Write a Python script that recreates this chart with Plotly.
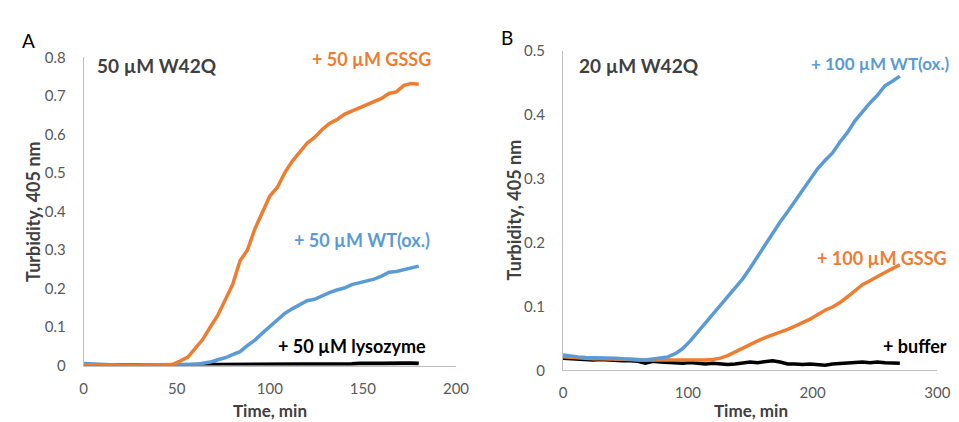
import plotly.graph_objects as go

# ---------------- Panel A data (50 µM W42Q) ----------------
time_a = [0, 4, 8, 12, 16, 20, 24, 28, 32, 36, 40, 44, 48, 52, 56, 60, 64, 68, 72, 76,
          80, 84, 88, 92, 96, 100, 104, 108, 112, 116, 120, 124, 128, 132, 136, 140,
          144, 148, 152, 156, 160, 164, 168, 172, 176, 180]
gssg_a = [0.001, 0.000, 0.001, 0.000, 0.001, 0.000, 0.001, 0.000, 0.001, 0.000, 0.001, 0.001,
          0.003, 0.012, 0.022, 0.045, 0.068, 0.100, 0.130, 0.170, 0.210, 0.272, 0.300, 0.355,
          0.395, 0.440, 0.462, 0.500, 0.530, 0.552, 0.577, 0.592, 0.612, 0.628, 0.638, 0.652,
          0.660, 0.668, 0.676, 0.684, 0.693, 0.706, 0.710, 0.727, 0.732, 0.730]
wt_a = [0.005, 0.004, 0.002, 0.001, 0.001, 0.001, 0.001, 0.001, 0.001, 0.001, 0.001, 0.001,
        0.001, 0.001, 0.002, 0.003, 0.006, 0.009, 0.015, 0.020, 0.028, 0.036, 0.052, 0.066,
        0.084, 0.100, 0.118, 0.135, 0.147, 0.158, 0.168, 0.172, 0.181, 0.189, 0.196, 0.201,
        0.210, 0.214, 0.220, 0.224, 0.232, 0.242, 0.244, 0.248, 0.252, 0.258]
lyso_a = [0.002, 0.001, 0.002, 0.001, 0.001, 0.002, 0.001, 0.001, 0.002, 0.001, 0.001, 0.002,
          0.001, 0.001, 0.002, 0.002, 0.002, 0.003, 0.002, 0.002, 0.003, 0.002, 0.003, 0.003,
          0.002, 0.003, 0.003, 0.002, 0.003, 0.003, 0.003, 0.004, 0.003, 0.003, 0.004, 0.004,
          0.004, 0.005, 0.004, 0.005, 0.005, 0.006, 0.007, 0.006, 0.006, 0.005]

# ---------------- Panel B data (20 µM W42Q) ----------------
time_b = [0, 6, 12, 18, 24, 30, 36, 42, 48, 54, 60, 66, 72, 78, 84, 90, 96, 102, 108, 114,
          120, 126, 132, 138, 144, 150, 156, 162, 168, 174, 180, 186, 192, 198, 204, 210,
          216, 222, 228, 234, 240, 246, 252, 258, 264, 270]
wt_b = [0.024, 0.022, 0.021, 0.020, 0.020, 0.020, 0.019, 0.019, 0.018, 0.018, 0.017, 0.016,
        0.018, 0.020, 0.021, 0.026, 0.034, 0.046, 0.060, 0.073, 0.087, 0.100, 0.115, 0.128,
        0.143, 0.160, 0.178, 0.196, 0.215, 0.232, 0.248, 0.265, 0.282, 0.300, 0.315, 0.328,
        0.340, 0.357, 0.372, 0.390, 0.405, 0.418, 0.430, 0.445, 0.452, 0.460]
gssg_b = [0.021, 0.020, 0.019, 0.019, 0.018, 0.018, 0.018, 0.017, 0.017, 0.017, 0.016, 0.016,
          0.016, 0.016, 0.015, 0.016, 0.015, 0.016, 0.016, 0.016, 0.017, 0.019, 0.023, 0.029,
          0.034, 0.040, 0.046, 0.051, 0.055, 0.060, 0.064, 0.069, 0.074, 0.080, 0.087, 0.094,
          0.099, 0.106, 0.115, 0.124, 0.134, 0.140, 0.147, 0.153, 0.159, 0.165]
buffer_b = [0.019, 0.018, 0.017, 0.017, 0.016, 0.017, 0.016, 0.016, 0.015, 0.015, 0.014, 0.011,
            0.014, 0.013, 0.012, 0.012, 0.011, 0.012, 0.011, 0.010, 0.011, 0.010, 0.009, 0.010,
            0.012, 0.013, 0.012, 0.014, 0.015, 0.013, 0.010, 0.010, 0.009, 0.010, 0.009, 0.008,
            0.010, 0.011, 0.012, 0.012, 0.013, 0.012, 0.013, 0.012, 0.011, 0.011]

xticks_a = [0, 50, 100, 150, 200]
yticks_a = [0, 0.1, 0.2, 0.3, 0.4, 0.5, 0.6, 0.7, 0.8]
xticks_b = [0, 100, 200, 300]
yticks_b = [0, 0.1, 0.2, 0.3, 0.4, 0.5]

ORANGE = "#ED7D31"
BLUE = "#5B9BD5"
BLACK = "#000000"
FONT = "Lato, Open Sans, sans-serif"
TICK = "#595959"

W, H = 959, 422

fig = go.Figure()

def line(x, y, color, xa, ya, width=3.5):
    fig.add_trace(go.Scatter(x=x, y=y, mode="lines", xaxis=xa, yaxis=ya,
                             line=dict(color=color, width=width), showlegend=False,
                             hoverinfo="skip"))

# Panel A
line(time_a, lyso_a, BLACK, "x", "y", 4)
line(time_a, wt_a, BLUE, "x", "y")
line(time_a, gssg_a, ORANGE, "x", "y")
# Panel B
line(time_b, buffer_b, BLACK, "x2", "y2", 3.5)
line(time_b, gssg_b, ORANGE, "x2", "y2")
line(time_b, wt_b, BLUE, "x2", "y2")

def px_x(p):
    return p / W

def px_y(p):
    return 1 - p / H

axis_common = dict(showgrid=False, zeroline=False, ticks="", showline=True,
                   linecolor="#BFBFBF", linewidth=1,
                   tickfont=dict(family=FONT, size=15, color=TICK))

fig.update_layout(
    width=W, height=H,
    margin=dict(l=0, r=0, t=0, b=0),
    paper_bgcolor="white", plot_bgcolor="white",
    xaxis=dict(domain=[px_x(73), px_x(452)], range=[0, 200], tickvals=xticks_a,
               anchor="y", ticklabelstandoff=9, **axis_common),
    yaxis=dict(domain=[px_y(363), px_y(41)], range=[0, 0.8], tickvals=yticks_a,
               anchor="x", ticklabelstandoff=14, **axis_common),
    xaxis2=dict(domain=[px_x(561), px_x(942)], range=[0, 300], tickvals=xticks_b,
                anchor="y2", ticklabelstandoff=9, **axis_common),
    yaxis2=dict(domain=[px_y(368), px_y(34)], range=[0, 0.5], tickvals=yticks_b,
                anchor="x2", ticklabelstandoff=14, **axis_common),
)

def ann(text, x, y, size, color, bold=False, angle=0, xanchor="center"):
    fig.add_annotation(text=("<b>%s</b>" % text) if bold else text,
                       x=px_x(x), y=px_y(y), xref="paper", yref="paper",
                       xanchor=xanchor, yanchor="middle", showarrow=False,
                       borderpad=0, textangle=angle,
                       font=dict(family=FONT, size=size, color=color))

# panel letters
ann("A", 17, 23, 19, "#000000")
ann("B", 504, 20, 19, "#000000")
# panel titles
ann("50 µM W42Q", 86, 50, 19, "#404040", bold=True, xanchor="left")
ann("20 µM W42Q", 576, 50, 19, "#404040", bold=True, xanchor="left")
# series labels A
ann("+ 50 µM GSSG", 428, 43, 18, ORANGE, bold=True, xanchor="right")
ann("+ 50 µM WT(ox.)", 427, 232, 18, BLUE, bold=True, xanchor="right")
ann("+ 50 µM lysozyme", 422, 343, 18, "#000000", bold=True, xanchor="right")
# series labels B
ann("+ 100 µM WT(ox.)", 956, 48, 17, BLUE, bold=True, xanchor="right")
ann("+ 100 µM GSSG", 953, 251, 18, ORANGE, bold=True, xanchor="right")
ann("+ buffer", 953, 343, 18, "#000000", bold=True, xanchor="right")
# axis titles
ann("Turbidity, 405 nm", 22, 202, 18, "#404040", bold=True, angle=-90)
ann("Turbidity, 405 nm", 512, 200, 18, "#404040", bold=True, angle=-90)
ann("Time, min", 263, 410, 17, "#404040", bold=True)
ann("Time, min", 752, 410, 17, "#404040", bold=True)

fig.write_html("out.html")
